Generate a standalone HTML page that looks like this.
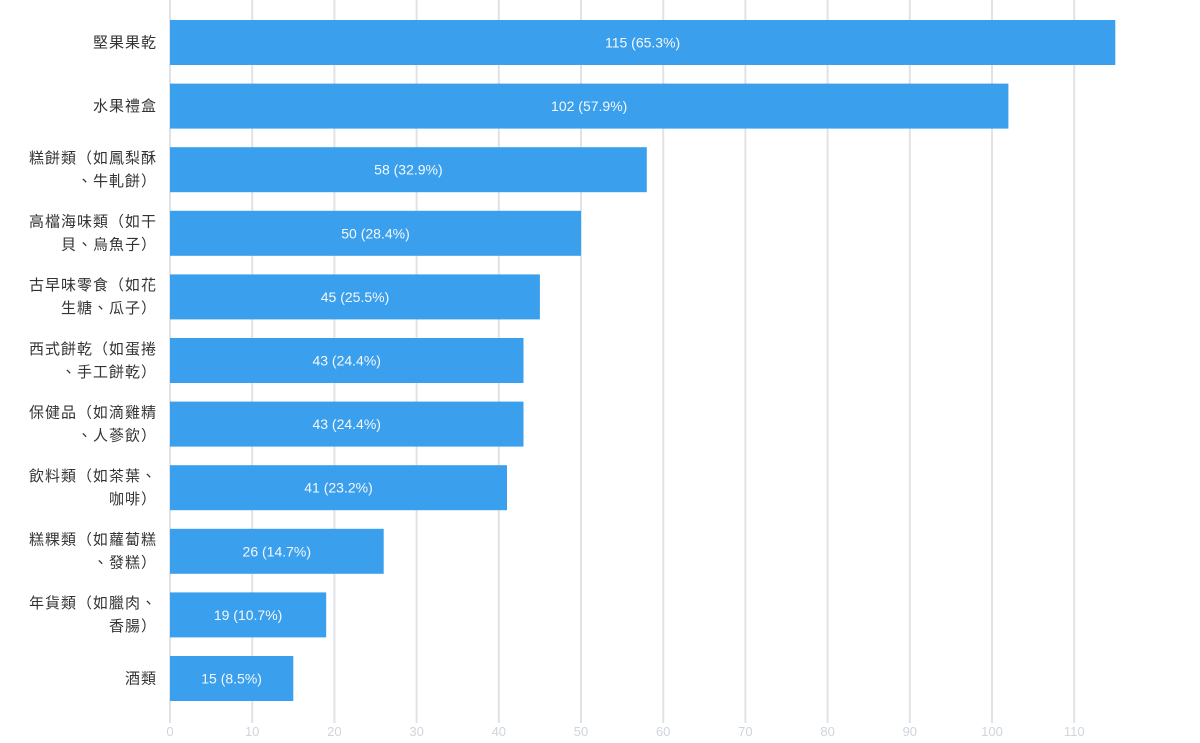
<!DOCTYPE html>
<html><head><meta charset="utf-8"><style>
body{margin:0;background:#fff;}
svg{display:block;font-family:"Liberation Sans","Noto Sans CJK TC",sans-serif;}
</style></head><body>
<svg width="1200" height="743" xmlns="http://www.w3.org/2000/svg">
<g stroke="#dfe3e8" stroke-width="2">
<line x1="170" y1="0" x2="170" y2="723"/><line x1="252.2" y1="0" x2="252.2" y2="723"/><line x1="334.4" y1="0" x2="334.4" y2="723"/><line x1="416.6" y1="0" x2="416.6" y2="723"/><line x1="498.8" y1="0" x2="498.8" y2="723"/><line x1="581" y1="0" x2="581" y2="723"/><line x1="663.2" y1="0" x2="663.2" y2="723"/><line x1="745.4" y1="0" x2="745.4" y2="723"/><line x1="827.6" y1="0" x2="827.6" y2="723"/><line x1="909.8" y1="0" x2="909.8" y2="723"/><line x1="992" y1="0" x2="992" y2="723"/><line x1="1074.2" y1="0" x2="1074.2" y2="723"/>
</g>
<g fill="#cfd5dd" font-size="13" text-anchor="middle">
<text x="170" y="736">0</text><text x="252.2" y="736">10</text><text x="334.4" y="736">20</text><text x="416.6" y="736">30</text><text x="498.8" y="736">40</text><text x="581" y="736">50</text><text x="663.2" y="736">60</text><text x="745.4" y="736">70</text><text x="827.6" y="736">80</text><text x="909.8" y="736">90</text><text x="992" y="736">100</text><text x="1074.2" y="736">110</text>
</g>
<g fill="#3a9fec">
<rect x="170" y="20" width="945.3" height="45"/>
<rect x="170" y="83.6" width="838.4" height="45"/>
<rect x="170" y="147.2" width="476.8" height="45"/>
<rect x="170" y="210.8" width="411" height="45"/>
<rect x="170" y="274.4" width="369.9" height="45"/>
<rect x="170" y="338" width="353.5" height="45"/>
<rect x="170" y="401.6" width="353.5" height="45"/>
<rect x="170" y="465.2" width="337" height="45"/>
<rect x="170" y="528.8" width="213.7" height="45"/>
<rect x="170" y="592.4" width="156.2" height="45"/>
<rect x="170" y="656" width="123.3" height="45"/>
</g>
<g fill="#f4f8fc" font-size="14" text-anchor="middle">
<text x="642.6" y="47.5">115 (65.3%)</text>
<text x="589.2" y="111.1">102 (57.9%)</text>
<text x="408.4" y="174.7">58 (32.9%)</text>
<text x="375.5" y="238.3">50 (28.4%)</text>
<text x="355" y="301.9">45 (25.5%)</text>
<text x="346.7" y="365.5">43 (24.4%)</text>
<text x="346.7" y="429.1">43 (24.4%)</text>
<text x="338.5" y="492.7">41 (23.2%)</text>
<text x="276.8" y="556.3">26 (14.7%)</text>
<text x="248.1" y="619.9">19 (10.7%)</text>
<text x="231.6" y="683.5">15 (8.5%)</text>
</g>
<g fill="#333" font-size="15" letter-spacing="1" text-anchor="end">
<text x="157" y="47.5">堅果果乾</text>
<text x="157" y="111.1">水果禮盒</text>
<text x="157" y="163">糕餅類（如鳳梨酥</text><text x="157" y="186">、牛軋餅）</text>
<text x="157" y="226.6">高檔海味類（如干</text><text x="157" y="249.6">貝、烏魚子）</text>
<text x="157" y="290.2">古早味零食（如花</text><text x="157" y="313.2">生糖、瓜子）</text>
<text x="157" y="353.8">西式餅乾（如蛋捲</text><text x="157" y="376.8">、手工餅乾）</text>
<text x="157" y="417.4">保健品（如滴雞精</text><text x="157" y="440.4">、人蔘飲）</text>
<text x="157" y="481">飲料類（如茶葉、</text><text x="157" y="504">咖啡）</text>
<text x="157" y="544.6">糕粿類（如蘿蔔糕</text><text x="157" y="567.6">、發糕）</text>
<text x="157" y="608.2">年貨類（如臘肉、</text><text x="157" y="631.2">香腸）</text>
<text x="157" y="683.5">酒類</text>
</g>
</svg>
</body></html>
